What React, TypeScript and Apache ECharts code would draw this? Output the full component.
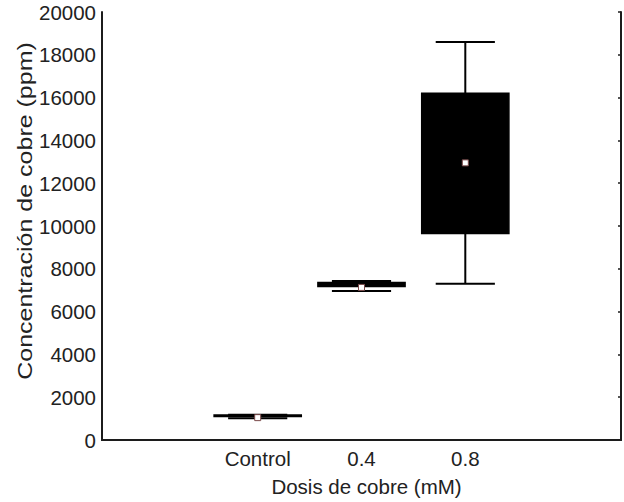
import React, { useEffect, useRef } from "react";
import * as echarts from "echarts";

const categories = ["", "Control", "0.4", "0.8", ""];
const groupIndex = [1, 2, 3];
const whiskerMin = [1020, 6960, 7300];
const boxLow = [1100, 7170, 9650];
const center = [1045, 7130, 12950];
const boxHigh = [1170, 7355, 16200];
const whiskerMax = [1180, 7425, 18600];
const yTicks = { min: 0, max: 20000, interval: 2000 };

const FONT = "'Liberation Sans', Arial, Helvetica, sans-serif";
const INK = "#1c1c1c";

export default function App() {
  const ref = useRef<HTMLDivElement>(null);
  useEffect(() => {
    if (!ref.current) return;
    const chart = echarts.init(ref.current, undefined, { renderer: "svg" });
    const data = groupIndex.map((g, i) => [
      g,
      whiskerMin[i],
      boxLow[i],
      center[i],
      boxHigh[i],
      whiskerMax[i],
    ]);
    chart.setOption({
      animation: false,
      backgroundColor: "#ffffff",
      grid: { left: 102, right: 3, top: 12, bottom: 59 },
      textStyle: { fontFamily: FONT },
      xAxis: [
        {
          type: "category",
          data: categories,
          position: "bottom",
          boundaryGap: true,
          axisLine: { lineStyle: { color: INK, width: 2 } },
          axisTick: { inside: true, alignWithLabel: true, length: 4, lineStyle: { color: INK, width: 1.5 } },
          axisLabel: { color: "#222", fontSize: 20.5, fontFamily: FONT, margin: 8, interval: 0 },
          splitLine: { show: false },
          name: "Dosis de cobre (mM)",
          nameLocation: "middle",
          nameGap: 36,
          nameTextStyle: { color: "#222", fontSize: 20.5, fontFamily: FONT, padding: [0, 0, 0, 10] },
        },
        {
          type: "category",
          data: categories,
          position: "top",
          boundaryGap: true,
          axisLine: { lineStyle: { color: INK, width: 2 } },
          axisTick: { inside: true, alignWithLabel: true, length: 4, lineStyle: { color: INK, width: 1.5 } },
          axisLabel: { show: false },
          splitLine: { show: false },
        },
      ],
      yAxis: [
        {
          type: "value",
          position: "left",
          min: yTicks.min,
          max: yTicks.max,
          interval: yTicks.interval,
          axisLine: { show: true, lineStyle: { color: INK, width: 2 } },
          axisTick: { show: false },
          axisLabel: {
            color: "#222",
            fontSize: 20.5,
            fontFamily: FONT,
            margin: 6,
            formatter: (v: number) => String(v),
          },
          splitLine: { show: false },
        },
        {
          type: "value",
          position: "right",
          min: yTicks.min,
          max: yTicks.max,
          interval: yTicks.interval,
          axisLine: { show: true, lineStyle: { color: INK, width: 2 } },
          axisTick: { show: true, inside: true, length: 3, lineStyle: { color: INK, width: 1.5 } },
          axisLabel: { show: false },
          splitLine: { show: false },
        },
      ],
      graphic: [
        {
          type: "text",
          x: 25,
          y: 211,
          rotation: Math.PI / 2,
          scaleY: 0.82,
          style: {
            text: "Concentración de cobre (ppm)",
            fill: "#222",
            font: `25px ${FONT}`,
            align: "center",
            verticalAlign: "middle",
          },
        },
      ],
      series: [
        {
          type: "custom",
          xAxisIndex: 0,
          yAxisIndex: 0,
          encode: { x: 0, y: [1, 2, 3, 4, 5] },
          data,
          renderItem: (params: any, api: any) => {
            const x = api.value(0);
            const pMin = api.coord([x, api.value(1)]);
            const pQ1 = api.coord([x, api.value(2)]);
            const pMid = api.coord([x, api.value(3)]);
            const pQ3 = api.coord([x, api.value(4)]);
            const pMax = api.coord([x, api.value(5)]);
            const band = api.size([1, 0])[0];
            const bw = band * 0.84;
            const cw = band * 0.57;
            const cx = pMid[0];
            const lineStyle = { stroke: "#000", lineWidth: 2 };
            const ms = 6;
            return {
              type: "group",
              children: [
                { type: "line", shape: { x1: cx, y1: pMax[1], x2: cx, y2: pQ3[1] }, style: lineStyle },
                { type: "line", shape: { x1: cx, y1: pQ1[1], x2: cx, y2: pMin[1] }, style: lineStyle },
                { type: "line", shape: { x1: cx - cw / 2, y1: pMax[1], x2: cx + cw / 2, y2: pMax[1] }, style: lineStyle },
                { type: "line", shape: { x1: cx - cw / 2, y1: pMin[1], x2: cx + cw / 2, y2: pMin[1] }, style: lineStyle },
                {
                  type: "rect",
                  shape: { x: cx - bw / 2, y: pQ3[1], width: bw, height: Math.max(pQ1[1] - pQ3[1], 0.5) },
                  style: { fill: "#000", stroke: "#000", lineWidth: 1.5 },
                },
                {
                  type: "rect",
                  shape: { x: cx - ms / 2, y: pMid[1] - ms / 2, width: ms, height: ms },
                  style: { fill: "#ffffff", stroke: "#7a4a4a", lineWidth: 1 },
                },
              ],
            };
          },
        },
      ],
    });
    return () => chart.dispose();
  }, []);
  return (
    <div
      ref={ref}
      style={{ position: "absolute", left: 0, top: 0, width: 624, height: 502 }}
    />
  );
}
